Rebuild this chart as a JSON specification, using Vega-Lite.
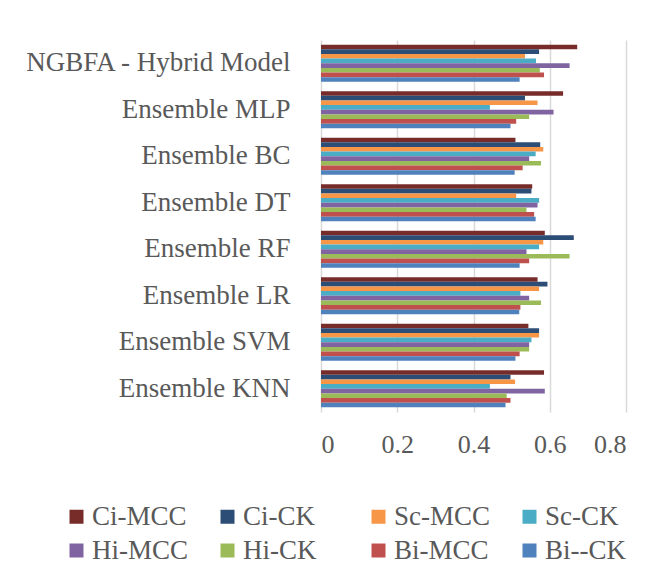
{
  "$schema": "https://vega.github.io/schema/vega-lite/v6.json",
  "width": 305,
  "height": 372,
  "autosize": "none",
  "padding": {"left": 321, "top": 40, "right": 46, "bottom": 160},
  "background": "white",
  "config": {"view": {"stroke": null}, "font": "Liberation Serif"},
  "data": {
    "values": [
      {"model": "NGBFA - Hybrid Model", "series": "Ci-MCC", "value": 0.672},
      {"model": "NGBFA - Hybrid Model", "series": "Ci-CK", "value": 0.572},
      {"model": "NGBFA - Hybrid Model", "series": "Sc-MCC", "value": 0.535},
      {"model": "NGBFA - Hybrid Model", "series": "Sc-CK", "value": 0.564},
      {"model": "NGBFA - Hybrid Model", "series": "Hi-MCC", "value": 0.652},
      {"model": "NGBFA - Hybrid Model", "series": "Hi-CK", "value": 0.574},
      {"model": "NGBFA - Hybrid Model", "series": "Bi-MCC", "value": 0.585},
      {"model": "NGBFA - Hybrid Model", "series": "Bi--CK", "value": 0.521},
      {"model": "Ensemble MLP", "series": "Ci-MCC", "value": 0.635},
      {"model": "Ensemble MLP", "series": "Ci-CK", "value": 0.535},
      {"model": "Ensemble MLP", "series": "Sc-MCC", "value": 0.568},
      {"model": "Ensemble MLP", "series": "Sc-CK", "value": 0.443},
      {"model": "Ensemble MLP", "series": "Hi-MCC", "value": 0.61},
      {"model": "Ensemble MLP", "series": "Hi-CK", "value": 0.546},
      {"model": "Ensemble MLP", "series": "Bi-MCC", "value": 0.512},
      {"model": "Ensemble MLP", "series": "Bi--CK", "value": 0.497},
      {"model": "Ensemble BC", "series": "Ci-MCC", "value": 0.51},
      {"model": "Ensemble BC", "series": "Ci-CK", "value": 0.575},
      {"model": "Ensemble BC", "series": "Sc-MCC", "value": 0.583},
      {"model": "Ensemble BC", "series": "Sc-CK", "value": 0.563},
      {"model": "Ensemble BC", "series": "Hi-MCC", "value": 0.546},
      {"model": "Ensemble BC", "series": "Hi-CK", "value": 0.577},
      {"model": "Ensemble BC", "series": "Bi-MCC", "value": 0.529},
      {"model": "Ensemble BC", "series": "Bi--CK", "value": 0.508},
      {"model": "Ensemble DT", "series": "Ci-MCC", "value": 0.554},
      {"model": "Ensemble DT", "series": "Ci-CK", "value": 0.552},
      {"model": "Ensemble DT", "series": "Sc-MCC", "value": 0.512},
      {"model": "Ensemble DT", "series": "Sc-CK", "value": 0.572},
      {"model": "Ensemble DT", "series": "Hi-MCC", "value": 0.568},
      {"model": "Ensemble DT", "series": "Hi-CK", "value": 0.539},
      {"model": "Ensemble DT", "series": "Bi-MCC", "value": 0.559},
      {"model": "Ensemble DT", "series": "Bi--CK", "value": 0.563},
      {"model": "Ensemble RF", "series": "Ci-MCC", "value": 0.587},
      {"model": "Ensemble RF", "series": "Ci-CK", "value": 0.663},
      {"model": "Ensemble RF", "series": "Sc-MCC", "value": 0.583},
      {"model": "Ensemble RF", "series": "Sc-CK", "value": 0.572},
      {"model": "Ensemble RF", "series": "Hi-MCC", "value": 0.539},
      {"model": "Ensemble RF", "series": "Hi-CK", "value": 0.652},
      {"model": "Ensemble RF", "series": "Bi-MCC", "value": 0.546},
      {"model": "Ensemble RF", "series": "Bi--CK", "value": 0.521},
      {"model": "Ensemble LR", "series": "Ci-MCC", "value": 0.568},
      {"model": "Ensemble LR", "series": "Ci-CK", "value": 0.594},
      {"model": "Ensemble LR", "series": "Sc-MCC", "value": 0.572},
      {"model": "Ensemble LR", "series": "Sc-CK", "value": 0.523},
      {"model": "Ensemble LR", "series": "Hi-MCC", "value": 0.546},
      {"model": "Ensemble LR", "series": "Hi-CK", "value": 0.577},
      {"model": "Ensemble LR", "series": "Bi-MCC", "value": 0.523},
      {"model": "Ensemble LR", "series": "Bi--CK", "value": 0.52},
      {"model": "Ensemble SVM", "series": "Ci-MCC", "value": 0.544},
      {"model": "Ensemble SVM", "series": "Ci-CK", "value": 0.572},
      {"model": "Ensemble SVM", "series": "Sc-MCC", "value": 0.572},
      {"model": "Ensemble SVM", "series": "Sc-CK", "value": 0.552},
      {"model": "Ensemble SVM", "series": "Hi-MCC", "value": 0.546},
      {"model": "Ensemble SVM", "series": "Hi-CK", "value": 0.546},
      {"model": "Ensemble SVM", "series": "Bi-MCC", "value": 0.521},
      {"model": "Ensemble SVM", "series": "Bi--CK", "value": 0.51},
      {"model": "Ensemble KNN", "series": "Ci-MCC", "value": 0.585},
      {"model": "Ensemble KNN", "series": "Ci-CK", "value": 0.497},
      {"model": "Ensemble KNN", "series": "Sc-MCC", "value": 0.509},
      {"model": "Ensemble KNN", "series": "Sc-CK", "value": 0.443},
      {"model": "Ensemble KNN", "series": "Hi-MCC", "value": 0.587},
      {"model": "Ensemble KNN", "series": "Hi-CK", "value": 0.487},
      {"model": "Ensemble KNN", "series": "Bi-MCC", "value": 0.497},
      {"model": "Ensemble KNN", "series": "Bi--CK", "value": 0.484}
    ]
  },
  "mark": {"type": "bar"},
  "encoding": {
    "y": {
      "field": "model",
      "type": "nominal",
      "sort": ["NGBFA - Hybrid Model", "Ensemble MLP", "Ensemble BC", "Ensemble DT", "Ensemble RF", "Ensemble LR", "Ensemble SVM", "Ensemble KNN"],
      "scale": {"paddingInner": 0.2, "paddingOuter": 0.1},
      "axis": {
        "title": null,
        "ticks": false,
        "domain": false,
        "labelFont": "Liberation Serif",
        "labelFontSize": 27,
        "labelColor": "#595959",
        "labelPadding": 31,
        "labelLimit": 320
      }
    },
    "yOffset": {
      "field": "series",
      "sort": ["Ci-MCC", "Ci-CK", "Sc-MCC", "Sc-CK", "Hi-MCC", "Hi-CK", "Bi-MCC", "Bi--CK"]
    },
    "x": {
      "field": "value",
      "type": "quantitative",
      "scale": {"domain": [0, 0.8]},
      "axis": {
        "title": null,
        "values": [0, 0.2, 0.4, 0.6, 0.8],
        "format": "~g",
        "ticks": false,
        "domain": false,
        "grid": true,
        "gridColor": "#d9d9d9",
        "gridWidth": 1.5,
        "labelFont": "Liberation Serif",
        "labelFontSize": 26,
        "labelColor": "#595959",
        "labelPadding": 19
      }
    },
    "color": {
      "field": "series",
      "type": "nominal",
      "scale": {
        "domain": ["Ci-MCC", "Ci-CK", "Sc-MCC", "Sc-CK", "Hi-MCC", "Hi-CK", "Bi-MCC", "Bi--CK"],
        "range": ["#772c2a", "#2c4d75", "#f79646", "#4bacc6", "#8064a2", "#9bbb59", "#c0504d", "#4f81bd"]
      },
      "legend": {
        "orient": "none",
        "legendX": -258,
        "legendY": 463,
        "direction": "horizontal",
        "columns": 4,
        "title": null,
        "symbolType": "square",
        "symbolSize": 196,
        "symbolStrokeWidth": 0,
        "symbolOffset": 0,
        "labelOffset": 2,
        "labelFont": "Liberation Serif",
        "labelFontSize": 27,
        "labelColor": "#595959",
        "columnPadding": 25,
        "rowPadding": 6,
        "gridAlign": "all"
      }
    }
  }
}
